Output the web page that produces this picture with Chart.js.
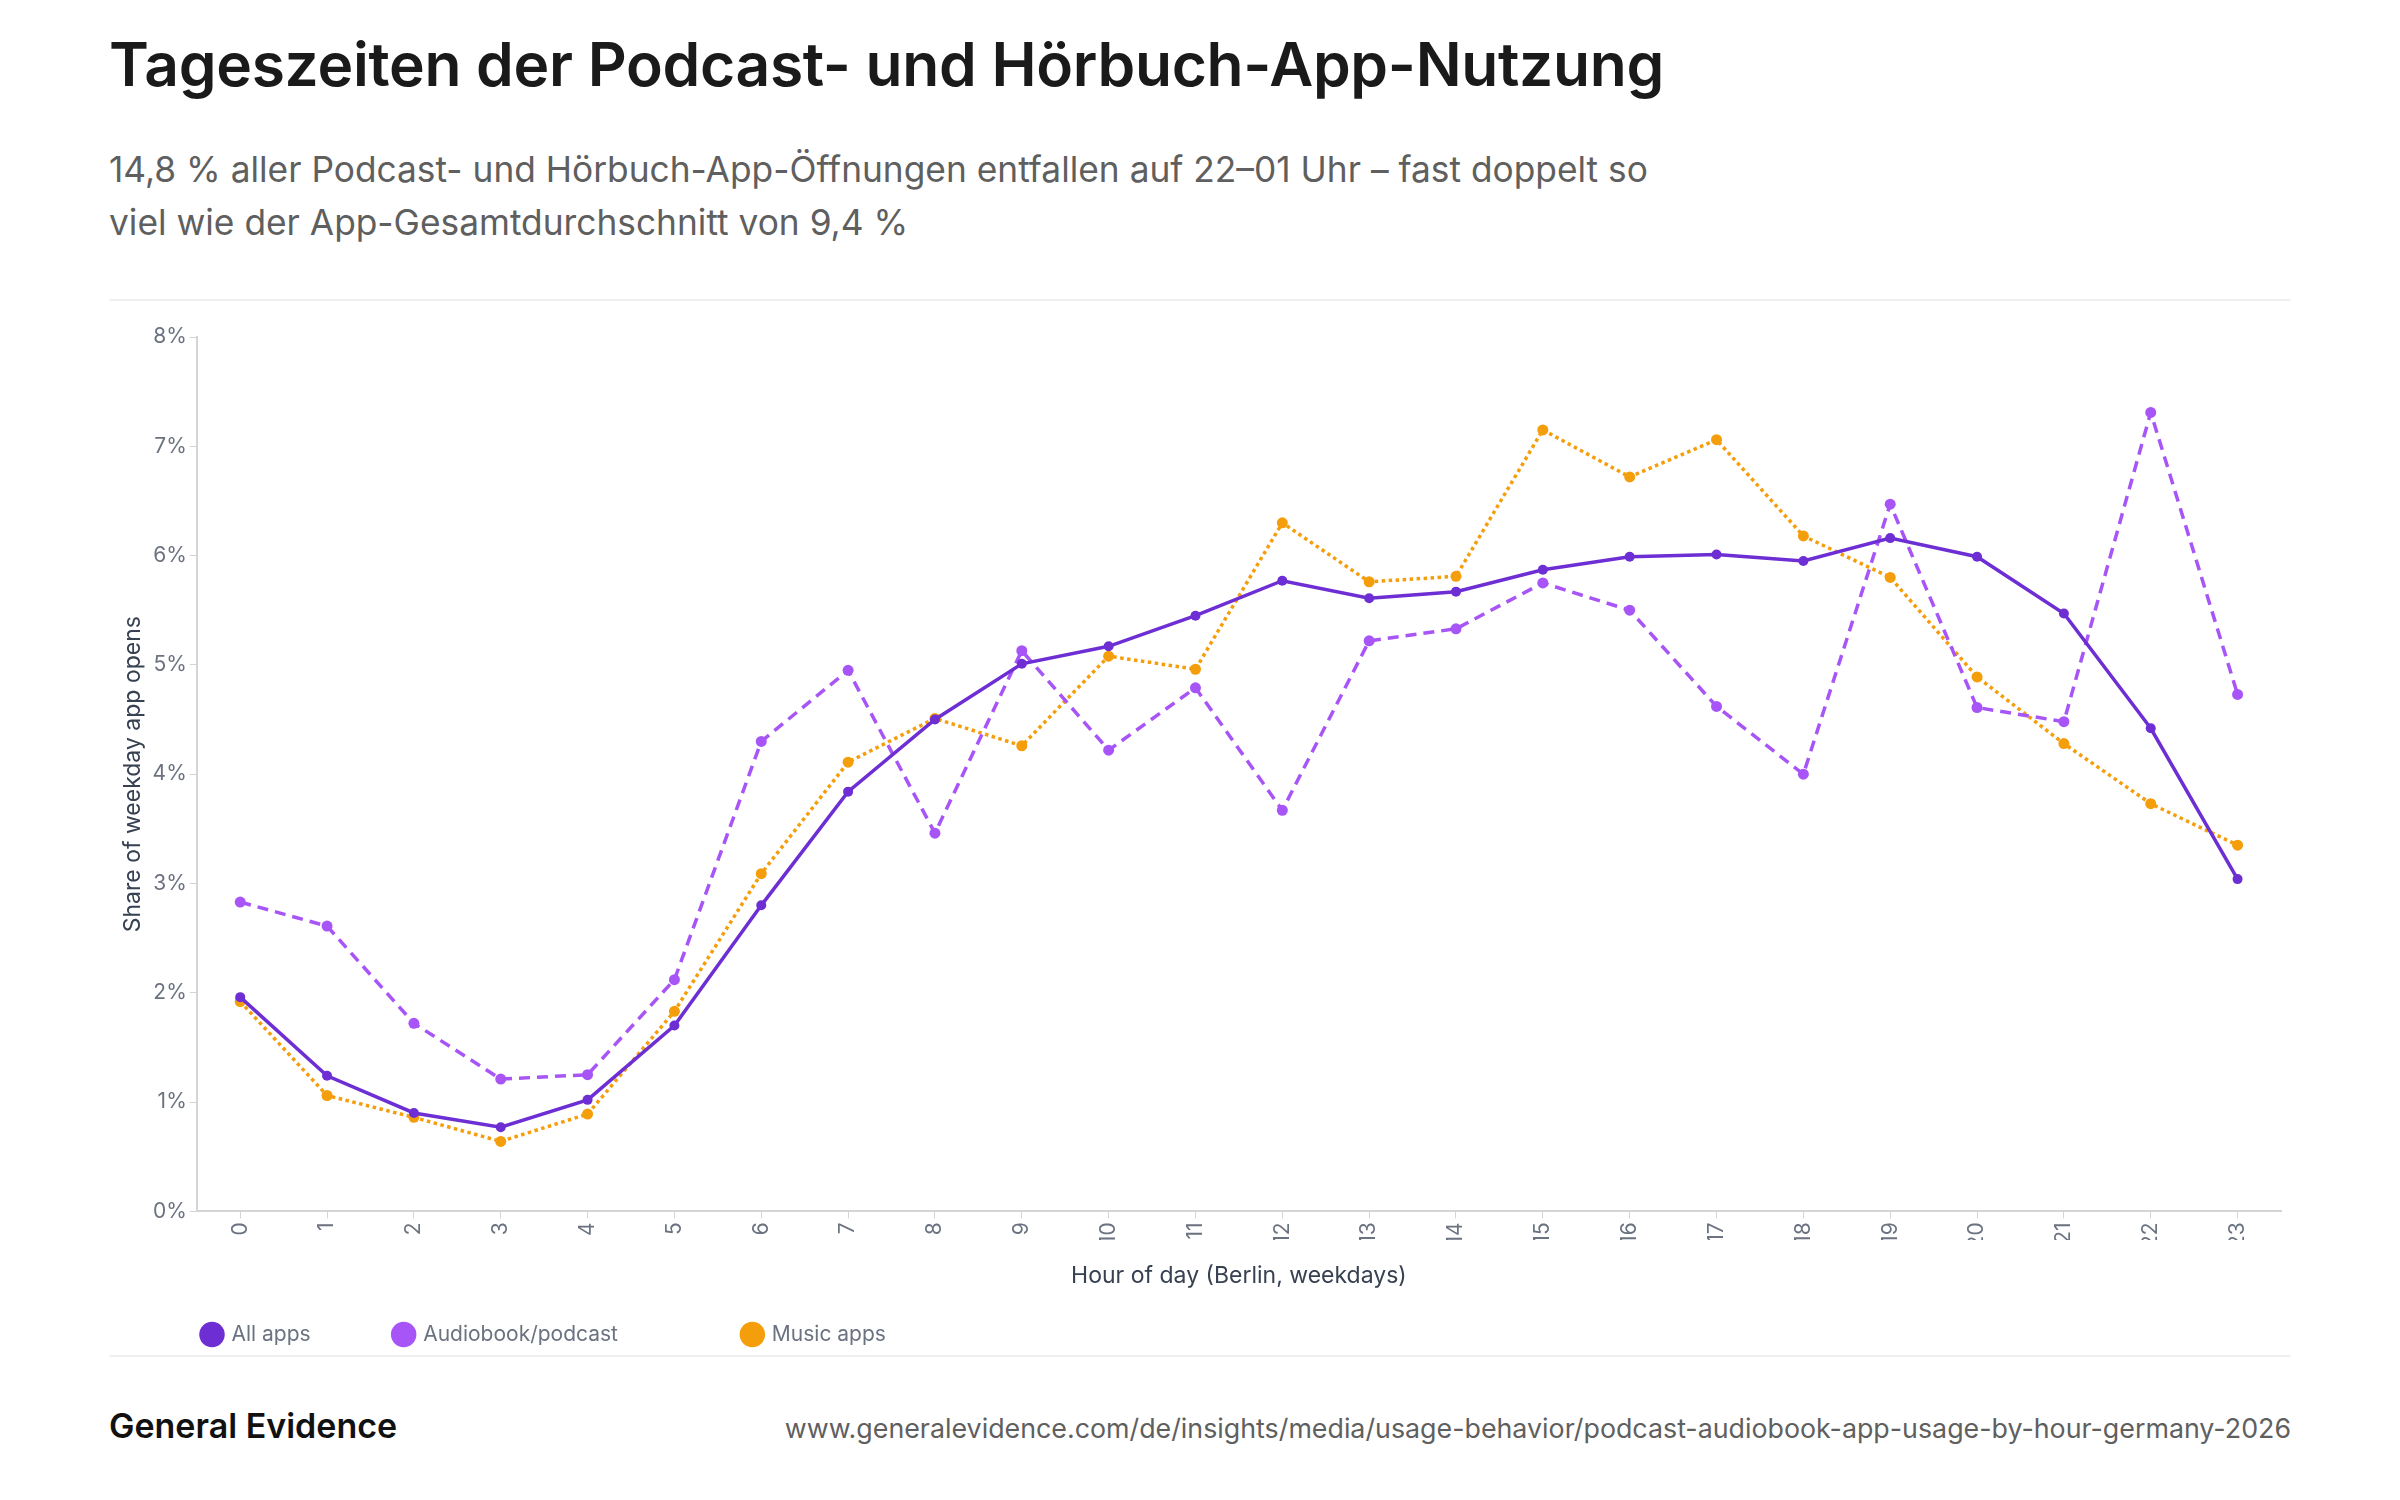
<!DOCTYPE html>
<html lang="de">
<head>
<meta charset="utf-8">
<title>Tageszeiten der Podcast- und Hörbuch-App-Nutzung</title>
<script src="https://cdn.jsdelivr.net/npm/chart.js@4.4.1/dist/chart.umd.min.js"></script>
<style>
  html, body { margin: 0; padding: 0; background: #fff; }
  body { width: 2400px; height: 1500px; position: relative; font-family: Inter, "Noto Sans", sans-serif; }
  .title { position: absolute; left: 109px; top: 27px; font-size: 60.5px; font-weight: 600; color: #1a1a1a; letter-spacing: -0.3px; }
  .subtitle { position: absolute; left: 109px; top: 143px; font-size: 35.3px; line-height: 53px; color: #5f5f5f; }
  .rule { position: absolute; left: 109px; width: 2182px; height: 2px; background: #f0f0f0; }
  .chart-box { position: absolute; left: 109px; top: 310px; width: 2182px; height: 1045px; }
  .brand { position: absolute; left: 109px; top: 1405px; font-size: 34px; font-weight: 600; color: #111; }
  .url { position: absolute; right: 109px; top: 1412px; font-size: 26.8px; color: #5f5f5f; }
</style>
</head>
<body>
<div class="title">Tageszeiten der Podcast- und Hörbuch-App-Nutzung</div>
<div class="subtitle">14,8 % aller Podcast- und Hörbuch-App-Öffnungen entfallen auf 22–01 Uhr – fast doppelt so<br>viel wie der App-Gesamtdurchschnitt von 9,4 %</div>
<div class="rule" style="top:299px"></div>
<div class="chart-box"><canvas id="hourChart"></canvas></div>
<div class="rule" style="top:1355px"></div>
<div class="brand">General Evidence</div>
<div class="url">www.generalevidence.com/de/insights/media/usage-behavior/podcast-audiobook-app-usage-by-hour-germany-2026</div>

<script>
// hours 0-23 (Berlin, weekdays)
const hours = ["0","1","2","3","4","5","6","7","8","9","10","11","12","13","14","15","16","17","18","19","20","21","22","23"];

// share of weekday app opens, in %
const allApps = [1.96,1.24,0.90,0.77,1.02,1.70,2.80,3.84,4.50,5.01,5.17,5.45,5.77,5.61,5.67,5.87,5.99,6.01,5.95,6.16,5.99,5.47,4.42,3.04];
const audiobookPodcast = [2.83,2.61,1.72,1.21,1.25,2.12,4.30,4.95,3.46,5.13,4.22,4.79,3.67,5.22,5.33,5.75,5.50,4.62,4.00,6.47,4.61,4.48,7.31,4.73];
const musicApps = [1.92,1.06,0.86,0.64,0.89,1.83,3.09,4.11,4.51,4.26,5.08,4.96,6.30,5.76,5.81,7.15,6.72,7.06,6.18,5.80,4.89,4.28,3.73,3.35];

const yTicks = [0,1,2,3,4,5,6,7,8];

const tickColor = "#6b7280";
const axisColor = "#d4d4d4";

// extra room after each legend entry (the original legend is spaced unevenly)
const legendGap = ["", "\u00a0\u00a0\u00a0\u00a0\u00a0\u00a0\u00a0", ""];

const ctx = document.getElementById("hourChart").getContext("2d");

new Chart(ctx, {
  type: "line",
  data: {
    labels: hours,
    datasets: [
      {
        label: "All apps",
        data: allApps,
        borderColor: "#6d2fd4",
        backgroundColor: "#6d2fd4",
        borderWidth: 3.5,
        pointRadius: 5,
        pointBorderWidth: 0,
        tension: 0
      },
      {
        label: "Audiobook/podcast",
        data: audiobookPodcast,
        borderColor: "#a855f7",
        backgroundColor: "#a855f7",
        borderWidth: 3.5,
        borderDash: [11, 7],
        pointRadius: 5.5,
        pointBorderWidth: 0,
        tension: 0
      },
      {
        label: "Music apps",
        data: musicApps,
        borderColor: "#f59e0b",
        backgroundColor: "#f59e0b",
        borderWidth: 3.5,
        borderDash: [3.5, 3.5],
        pointRadius: 5.5,
        pointBorderWidth: 0,
        tension: 0
      }
    ]
  },
  options: {
    responsive: true,
    maintainAspectRatio: false,
    animation: false,
    layout: {
      padding: { top: 27, left: 10, right: 10, bottom: 0 }
    },
    plugins: {
      tooltip: { enabled: false },
      legend: {
        position: "bottom",
        align: "start",
        labels: {
          usePointStyle: true,
          pointStyle: "circle",
          boxWidth: 18,
          boxHeight: 18,
          padding: 84,
          color: tickColor,
          font: { family: "Inter", size: 21 },
          generateLabels: chart => {
            const items = Chart.defaults.plugins.legend.labels.generateLabels(chart);
            items.forEach((it, i) => { it.text = it.text + legendGap[i]; });
            return items;
          }
        }
      }
    },
    scales: {
      x: {
        offset: true,
        grid: {
          display: true,
          drawOnChartArea: false,
          drawTicks: true,
          tickLength: 7,
          color: axisColor
        },
        border: { color: axisColor, width: 2 },
        ticks: {
          color: tickColor,
          minRotation: 90,
          maxRotation: 90,
          padding: 4,
          font: { family: "Inter", size: 21 }
        },
        title: {
          display: true,
          text: "Hour of day (Berlin, weekdays)",
          color: "#374151",
          padding: { top: 10, bottom: -50 },
          font: { family: "Inter", size: 23 }
        }
      },
      y: {
        min: yTicks[0],
        max: yTicks[yTicks.length - 1],
        afterBuildTicks: axis => { axis.ticks = yTicks.map(v => ({ value: v })); },
        grid: {
          display: true,
          drawOnChartArea: false,
          drawTicks: true,
          tickLength: 7,
          color: axisColor
        },
        border: { color: axisColor, width: 2 },
        ticks: {
          color: tickColor,
          padding: 3,
          font: { family: "Inter", size: 21 },
          callback: v => v + "%"
        },
        title: {
          display: true,
          text: "Share of weekday app opens",
          color: "#374151",
          padding: { top: 0, bottom: 3 },
          font: { family: "Inter", size: 23 }
        }
      }
    }
  }
});
</script>
</body>
</html>
